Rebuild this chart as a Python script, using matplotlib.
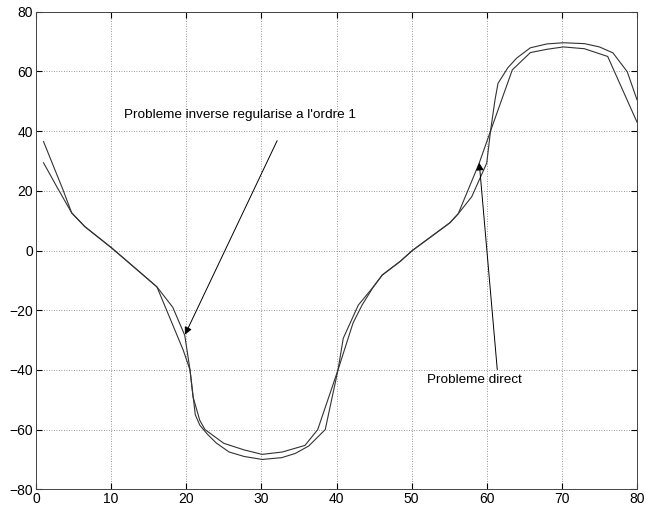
import matplotlib.pyplot as plt

# courbe "probleme direct"
x_direct = [1, 3.6, 4.75, 6.5, 10.1, 13.8, 16.1, 19.6, 20.5, 20.9, 21.8, 22.5, 25.0,
            27.7, 30.1, 32.8, 35.8, 37.5, 40.2, 42.2, 43.4, 44.9, 46.1, 48.5,
            50.1, 55.1, 56.2, 59.0, 60.5, 63.4, 65.8, 68.0, 70.2, 73.0, 76.1, 80]
y_direct = [36.5, 20.3, 12.6, 8, 0.8, -7.2, -12.2, -33.4, -40, -49, -56.9, -60, -64.6,
            -66.8, -68.3, -67.5, -65.3, -60, -40, -24.3, -18.3, -12.2, -8.2, -3.6,
            0, 9.3, 12.3, 29.3, 40, 60.5, 66.3, 67.4, 68.2, 67.6, 65, 43]

# courbe "probleme inverse regularise a l'ordre 1"
x_inverse = [1, 2.76, 4.75, 6.5, 10.1, 13.8, 16.1, 18.2, 19.8, 20.5, 21.2, 21.8, 22.8,
             24.0, 25.7, 27.7, 30.1, 32.7, 34.5, 36.3, 38.5, 40.2, 40.9, 42.9,
             44.9, 46.1, 48.5, 50.1, 55.1, 56.2, 58.0, 60.0, 60.5, 61.1, 61.5,
             62.8, 64.0, 65.8, 68.0, 70.2, 73.0, 75.0, 76.8, 78.7, 80]
y_inverse = [29.4, 21.4, 12.6, 8, 0.8, -7.2, -12.2, -19, -28.4, -40, -55, -58.5, -61.5,
             -64.5, -67.5, -69, -70, -69.4, -68, -65.5, -60, -40, -29.4, -18.3,
             -12.2, -8.2, -3.6, 0, 9.3, 12.3, 18, 29.3, 40, 50.5, 56,
             61.2, 64.5, 67.9, 69.2, 69.6, 69.3, 68.2, 66.2, 59.9, 50.5]

xticks = [0, 10, 20, 30, 40, 50, 60, 70, 80]
yticks = [-80, -60, -40, -20, 0, 20, 40, 60, 80]

plt.rcParams['font.family'] = ['Liberation Sans', 'DejaVu Sans']

fig = plt.figure(figsize=(6.46, 5.13), dpi=100)
ax = fig.add_axes([36 / 646, 23.7 / 513, 601 / 646, 477.6 / 513])

ax.plot(x_direct, y_direct, color='#333333', linewidth=0.8)
ax.plot(x_inverse, y_inverse, color='#333333', linewidth=0.8)

ax.set_xlim(0, 80)
ax.set_ylim(-80, 80)
ax.set_xticks(xticks)
ax.set_yticks(yticks)
ax.grid(True, linestyle=(0, (1, 2)), color='#777777', linewidth=0.6)
ax.tick_params(direction='in', top=True, right=True, length=4, labelsize=10, pad=2)
for s in ax.spines.values():
    s.set_linewidth(0.7)
    s.set_color('#444444')

arrow = dict(arrowstyle='-|>', color='black', lw=0.7, mutation_scale=11, shrinkA=0, shrinkB=0)
ax.annotate('', xy=(19.83, -28.2), xytext=(32.1, 36.8), arrowprops=arrow)
ax.annotate('', xy=(59.0, 29.4), xytext=(61.4, -39.9), arrowprops=arrow)

ax.text(11.7, 45.4, "Probleme inverse regularise a l'ordre 1", fontsize=9.7, va='center')
ax.text(52.0, -43.4, "Probleme direct", fontsize=9.7, va='center')

fig.savefig('out.png', dpi=100)
